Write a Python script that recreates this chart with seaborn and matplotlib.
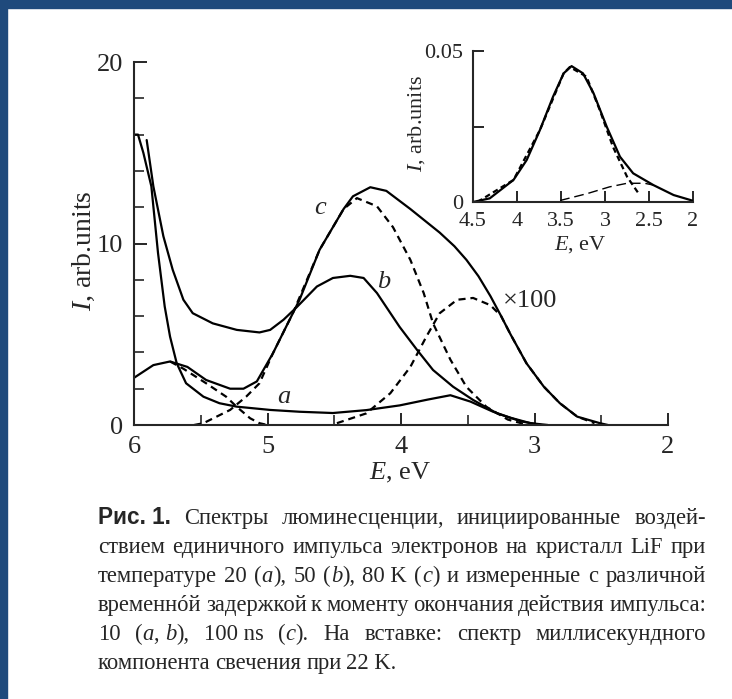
import matplotlib
matplotlib.use("Agg")
import matplotlib.pyplot as plt
from matplotlib.patches import Rectangle
import seaborn as sns

# ---- main panel: luminescence spectra (E in eV, I in arb. units) ----
a_E = [6.00, 5.97, 5.93, 5.87, 5.82, 5.77, 5.73, 5.68, 5.61, 5.48, 5.36, 5.23, 4.98,
       4.76, 4.51, 4.26, 4.01, 3.80, 3.63, 3.48, 3.31, 3.18, 3.03, 2.90]
a_I = [16.0, 16.0, 15.0, 13.15, 9.47, 6.53, 4.87, 3.4, 2.3, 1.56, 1.2, 1.01, 0.83,
       0.73, 0.66, 0.82, 1.08, 1.4, 1.64, 1.29, 0.73, 0.4, 0.1, 0.0]

b_E = [5.905, 5.855, 5.78, 5.71, 5.63, 5.56, 5.41, 5.23, 5.06, 4.98, 4.88, 4.78,
       4.63, 4.51, 4.38, 4.28, 4.18, 4.01, 3.88, 3.76, 3.61, 3.46, 3.28, 3.10, 2.95]
b_I = [15.7, 13.15, 10.4, 8.55, 6.9, 6.16, 5.6, 5.24, 5.1, 5.24, 5.8, 6.5,
       7.63, 8.1, 8.22, 8.1, 7.27, 5.4, 4.14, 3.03, 2.11, 1.38, 0.64, 0.2, 0.0]

c_E = [6.00, 5.855, 5.73, 5.60, 5.46, 5.28, 5.18, 5.08, 4.96, 4.81, 4.76, 4.61,
       4.51, 4.43, 4.36, 4.23, 4.11, 3.93, 3.71, 3.60, 3.51, 3.42, 3.33, 3.25,
       3.18, 3.06, 2.93, 2.81, 2.68, 2.51, 2.45]
c_I = [2.6, 3.3, 3.5, 3.2, 2.48, 2.0, 2.0, 2.4, 3.94, 6.16, 6.9, 9.65,
       10.9, 11.9, 12.6, 13.1, 12.9, 11.9, 10.6, 9.85, 9.1, 8.2, 7.1, 6.0,
       5.0, 3.4, 2.11, 1.2, 0.46, 0.1, 0.0]

g1_E = [5.73, 5.63, 5.46, 5.31, 5.23, 5.13, 5.06, 5.00]
g1_I = [3.5, 3.1, 2.3, 1.56, 1.0, 0.37, 0.1, 0.0]

g2_E = [5.55, 5.48, 5.28, 5.16, 5.06, 4.96, 4.81, 4.61, 4.51, 4.43, 4.33, 4.18,
        4.06, 3.93, 3.83, 3.76, 3.63, 3.51, 3.36, 3.20, 3.05]
g2_I = [0.0, 0.1, 0.83, 1.56, 2.3, 3.94, 6.16, 9.65, 10.9, 11.9, 12.5, 12.05,
        10.9, 9.1, 7.27, 5.6, 3.6, 2.1, 1.0, 0.3, 0.0]

g3_E = [4.48, 4.26, 4.08, 3.93, 3.81, 3.71, 3.58, 3.46, 3.33, 3.25, 3.18, 3.06,
        2.93, 2.81, 2.68, 2.55]
g3_I = [0.1, 0.64, 1.75, 3.2, 4.87, 6.16, 6.9, 7.0, 6.6, 6.0, 5.0, 3.4,
        2.11, 1.2, 0.46, 0.1]

# ---- inset: millisecond component at 22 K ----
ins_E = [4.50, 4.31, 4.04, 3.89, 3.74, 3.59, 3.47, 3.38, 3.25, 3.13, 2.98, 2.83,
         2.68, 2.45, 2.22, 2.00]
ins_I = [0.0, 0.0012, 0.0073, 0.0139, 0.0238, 0.0349, 0.0426, 0.045, 0.0426, 0.036,
         0.0249, 0.015, 0.0095, 0.0056, 0.0023, 0.0004]
ins_g1_E = [4.45, 4.04, 3.74, 3.47, 3.40, 3.21, 3.06, 2.91, 2.75, 2.62]
ins_g1_I = [0.0, 0.0073, 0.0238, 0.0426, 0.0447, 0.0415, 0.0305, 0.0183, 0.0084, 0.0029]
ins_g2_E = [3.51, 3.20, 2.95, 2.75, 2.55, 2.45]
ins_g2_I = [0.0005, 0.0028, 0.0050, 0.0062, 0.0062, 0.0056]

x_ticks = [6, 5, 4, 3, 2]
x_minor = [5.5, 4.5, 3.5, 2.5]
y_ticks = [0, 10, 20]
y_minor = [2, 4, 6, 8, 12, 14, 16, 18]
ins_x_ticks = [4.5, 4, 3.5, 3, 2.5, 2]
ins_x_labels = ["4.5", "4", "3.5", "3", "2.5", "2"]
ins_y_ticks = [0, 0.025, 0.05]
ins_y_labels = ["0", "", "0.05"]

caption = [
    "Спектры люминесценции, инициированные воздей-",
    "ствием единичного импульса электронов на кристалл LiF при",
    "температуре 20 (*a*), 50 (*b*), 80~K (*c*) и измеренные с различной",
    "временн\u00f3й задержкой к моменту окончания действия импульса:",
    "10 (*a*,~*b*), 100~ns (*c*). На вставке: спектр миллисекундного",
    "компонента свечения при 22~K.",
]

sns.set_style("ticks")
plt.rcParams["font.family"] = ["Liberation Serif", "DejaVu Serif"]
plt.rcParams["mathtext.fontset"] = "custom"
plt.rcParams["mathtext.rm"] = "Liberation Serif"
plt.rcParams["mathtext.it"] = "Liberation Serif:italic"
plt.rcParams["axes.linewidth"] = 1.5

W, H = 732, 699
fig = plt.figure(figsize=(W / 100, H / 100), dpi=100)
fig.patch.set_facecolor("white")

blue = "#1f4a7c"
fig.add_artist(Rectangle((0, 1 - 8 / H), 1, 8 / H, transform=fig.transFigure, color=blue))
fig.add_artist(Rectangle((0, 0), 7 / W, 1, transform=fig.transFigure, color=blue))

ax = fig.add_axes([134 / W, (H - 425) / H, 534 / W, 363 / H])
ax.patch.set_alpha(0)
solid = dict(color="black", lw=1.6, sort=False, estimator=None)
dash = dict(color="black", lw=1.6, sort=False, estimator=None, linestyle=(0, (3.2, 2.2)))
sns.lineplot(x=a_E, y=a_I, ax=ax, **solid)
sns.lineplot(x=b_E, y=b_I, ax=ax, **solid)
sns.lineplot(x=c_E, y=c_I, ax=ax, **solid)
sns.lineplot(x=g1_E, y=g1_I, ax=ax, **dash)
sns.lineplot(x=g2_E, y=g2_I, ax=ax, **dash)
sns.lineplot(x=g3_E, y=g3_I, ax=ax, **dash)

ax.set_xlim(6, 2)
ax.set_ylim(0, 20)
sns.despine(ax=ax)
ax.set_xticks(x_ticks)
ax.set_xticks(x_minor, minor=True)
ax.set_yticks(y_ticks)
ax.set_yticks(y_minor, minor=True)
ax.tick_params(which="major", direction="in", length=9, width=1.4, labelsize=19, pad=8)
ax.tick_params(which="minor", direction="in", length=7, width=1.2)
ax.set_xlabel("$E$, eV", fontsize=19)
ax.set_ylabel("$I$, arb.units", fontsize=20)
ax.xaxis.set_label_coords(0.498, -0.10)
ax.yaxis.set_label_coords(-0.07, 0.48)

lab = dict(fontsize=19, style="italic", ha="center", va="center")
ax.text(4.88, 1.56, "a", **lab)
ax.text(4.13, 7.9, "b", **lab)
ax.text(4.61, 11.96, "c", **lab)
ax.text(3.03, 6.84, "\u00d7100", fontsize=19, ha="center", va="center")

# inset
axi = fig.add_axes([473 / W, (H - 202) / H, 220 / W, 151 / H])
axi.patch.set_alpha(0)
sns.lineplot(x=ins_E, y=ins_I, ax=axi, color="black", lw=1.6, sort=False, estimator=None)
sns.lineplot(x=ins_g1_E, y=ins_g1_I, ax=axi, color="black", lw=1.6, sort=False,
             estimator=None, linestyle=(0, (2.5, 1.6)))
sns.lineplot(x=ins_g2_E, y=ins_g2_I, ax=axi, color="black", lw=1.0, sort=False,
             estimator=None, linestyle=(0, (7, 3.5)))
axi.set_xlim(4.5, 2)
axi.set_ylim(0, 0.05)
sns.despine(ax=axi)
axi.set_xticks(ins_x_ticks, ins_x_labels)
axi.set_yticks(ins_y_ticks, ins_y_labels)
axi.tick_params(direction="in", length=8, width=1.4, labelsize=16, pad=7)
axi.set_xlabel("$E$, eV", fontsize=16)
axi.set_ylabel("$I$, arb.units", fontsize=16)
axi.xaxis.set_label_coords(0.486, -0.21)
axi.yaxis.set_label_coords(-0.21, 0.52)

# caption, justified word by word
renderer = fig.canvas.get_renderer()
cap_size = 16.3
x_left, x_right = 98, 706
base0, step = 524, 29


def put(x, y, s, **kw):
    t = fig.text(x / W, 1 - y / H, s, va="baseline", ha="left", **kw)
    return t, t.get_window_extent(renderer=renderer).width


def draw_word(x, y, word, bold=False):
    if bold:
        t, w = put(x, y, word.replace("~", " "), fontsize=cap_size,
                   family=["Liberation Sans", "DejaVu Sans"], weight="bold")
        return w
    total = 0
    for i, part in enumerate(word.split("*")):
        if not part:
            continue
        t, w = put(x + total, y, part.replace("~", " "), fontsize=cap_size,
                   style="italic" if i % 2 else "normal")
        total += w
    return total


for k, line in enumerate(caption):
    y = base0 + k * step
    words = line.split(" ")
    bolds = [False] * len(words)
    if k == 0:
        words = ["Рис.~1."] + words
        bolds = [True] + bolds
    widths = [draw_word(0, -200, w, b) for w, b in zip(words, bolds)]
    if k < len(caption) - 1:
        gap = max((x_right - x_left - sum(widths)) / (len(words) - 1), 2)
    else:
        gap = cap_size * 0.3
    x = x_left
    for w, b, wd in zip(words, bolds, widths):
        draw_word(x, y, w, b)
        x += wd + gap

# drop the off-canvas measuring texts
for t in list(fig.texts):
    if t.get_position()[1] > 1.0:
        t.remove()

fig.savefig("out.png", dpi=100)
